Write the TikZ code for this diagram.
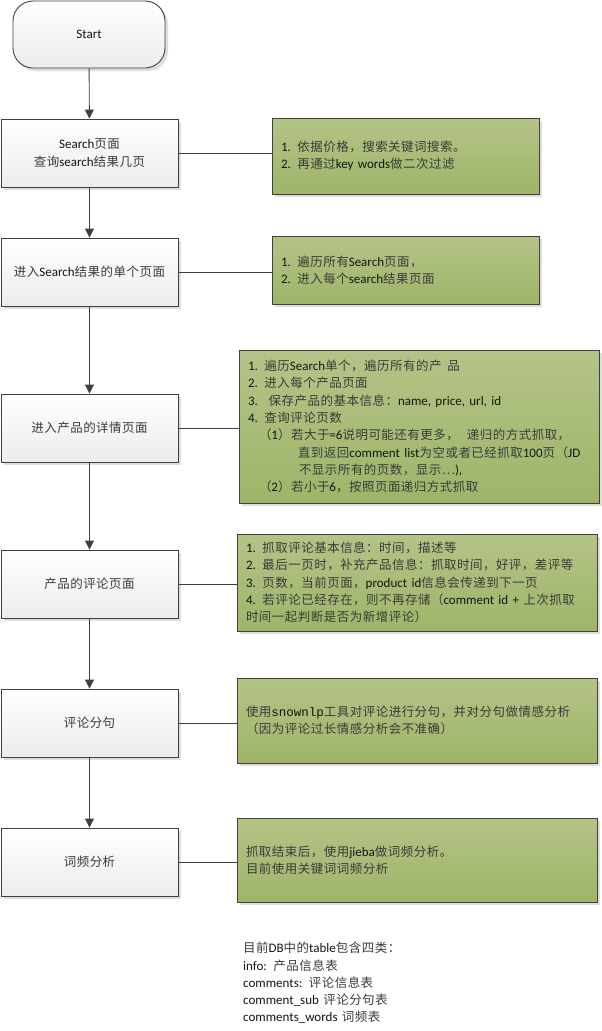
\documentclass[tikz,border=0pt]{standalone}
\usepackage{fontspec}
\setmainfont{Carlito}
\newfontfamily\cjkfont{Noto Sans CJK SC}[Scale=0.96]
\newfontfamily\monofont{Liberation Mono}[Scale=0.96]
\usetikzlibrary{arrows.meta,shadows}

\definecolor{linegray}{RGB}{64,64,64}
\definecolor{notetop}{RGB}{180,195,135}
\definecolor{notebot}{RGB}{158,181,104}
\definecolor{boxbot}{RGB}{236,236,236}
\definecolor{shadowgray}{RGB}{222,222,222}
\definecolor{latintext}{RGB}{20,20,20}
\definecolor{cjktext}{RGB}{58,58,58}

% Automatic switching between the Latin and the CJK font
\newXeTeXintercharclass\CJKclass
\newcount\cjkcode
\newcommand\setcjkrange[2]{%
  \cjkcode=#1\relax
  \loop
    \XeTeXcharclass\cjkcode=\CJKclass
    \ifnum\cjkcode<#2\relax \advance\cjkcode by 1 \repeat}
\setcjkrange{"3000}{"303F}
\setcjkrange{"4E00}{"9FFF}
\setcjkrange{"FF00}{"FFEF}
\XeTeXcharclass"2026=\CJKclass

\newcommand\tocjk{\cjkfont\color{cjktext}}
\newcommand\tolatin{\normalfont\color{latintext}}
\newcommand\tomono{\monofont\color{latintext}}
\XeTeXinterchartoks 0 \CJKclass = {\tocjk}
\XeTeXinterchartoks 4095 \CJKclass = {\tocjk}
\XeTeXinterchartoks \CJKclass 0 = {\tolatin}
\XeTeXinterchartoks \CJKclass 4095 = {\tolatin}
\XeTeXinterchartoks \CJKclass \CJKclass = {\kern0.5pt}

\newcommand\mono[1]{{\let\tolatin\tomono\tomono #1}}

\tikzset{
  flowline/.style={draw=linegray, line width=0.9pt},
  arr/.style={flowline, -{Triangle[width=9pt,length=9pt]}},
  boxshadow/.style={drop shadow={shadow xshift=3pt, shadow yshift=-3pt, fill=shadowgray, opacity=1}},
  startbox/.style={draw=linegray, line width=0.9pt, rounded corners=20pt,
    top color=white, bottom color=boxbot, minimum width=152pt, minimum height=67pt,
    inner sep=0pt, boxshadow},
  stepbox/.style={draw=linegray, line width=0.9pt, top color=white, bottom color=boxbot,
    minimum width=177pt, minimum height=68pt, align=center, inner sep=0pt, boxshadow},
  notebox/.style={draw=linegray, line width=0.9pt, top color=notetop, bottom color=notebot,
    inner xsep=9pt, inner ysep=0pt, align=left, boxshadow},
  every node/.style={font=\fontsize{13}{17.3}\selectfont\color{latintext}},
}

\begin{document}
\XeTeXinterchartokenstate=1
\begin{tikzpicture}[x=1pt,y=-1pt]
\useasboundingbox[fill=white] (0,0) rectangle (602,1031);

% main flow
\node[startbox] (start) at (89,34.5) {Start};
\node[stepbox] (b1) at (89.5,153) {Search页面\\查询search结果几页};
\node[stepbox] (b2) at (89.5,272) {进入Search结果的单个页面};
\node[stepbox] (b3) at (89.5,428) {进入产品的详情页面};
\node[stepbox] (b4) at (89.5,584) {产品的评论页面};
\node[stepbox] (b5) at (89.5,723) {评论分句};
\node[stepbox] (b6) at (89.5,862) {词频分析};

% notes
\node[notebox, text width=249pt, minimum height=76pt] (n1) at (405.5,156)
  {1. 依据价格，搜索关键词搜索。\\2. 再通过key words做二次过滤};
\node[notebox, text width=249pt, minimum height=68pt] (n2) at (405.5,270)
  {1. 遍历所有Search页面，\\2. 进入每个search结果页面};
\node[notebox, text width=342pt, minimum height=153pt] (n3) at (419,426.5)
  {1. 遍历Search单个，遍历所有的产\hspace{6pt}品\\
   2. 进入每个产品页面\\
   3.~ 保存产品的基本信息：name, price, url, id\\
   4. 查询评论页数\\
   \hspace*{11pt}（1）若大于=6说明可能还有更多，\hspace{8pt}递归的方式抓取，\\
   \hspace*{50pt}直到返回comment list为空或者已经抓取100页（JD\\
   \hspace*{51pt}不显示所有的页数，显示…),\\
   \hspace*{11pt}（2）若小于6，按照页面递归方式抓取};
\node[notebox, text width=342pt, minimum height=97pt] (n4) at (417,582.5)
  {1. 抓取评论基本信息：时间，描述等\\
   2. 最后一页时，补充产品信息：抓取时间，好评，差评等\\
   3. 页数，当前页面，product id信息会传递到下一页\\
   4. 若评论已经存在，则不再存储（comment id + 上次抓取\\
   时间一起判断是否为新增评论）};
\node[notebox, text width=342pt, minimum height=85pt] (n5) at (417,720.5)
  {使用\mono{snownlp}工具对评论进行分句，并对分句做情感分析\\
   （因为评论过长情感分析会不准确）};
\node[notebox, text width=342pt, minimum height=84pt] (n6) at (417,860)
  {抓取结束后，使用jieba做词频分析。\\目前使用关键词词频分析};

% database tables
\node[anchor=north west, align=left, inner sep=0pt, text width=250pt] (db) at (243,942)
  {目前DB中的table包含四类：\\
   info: 产品信息表\\
   comments: 评论信息表\\
   comment\_sub 评论分句表\\
   comments\_words 词频表};

% arrows of the flow
\draw[arr] (start) -- (b1);
\draw[arr] (b1) -- (b2);
\draw[arr] (b2) -- (b3);
\draw[arr] (b3) -- (b4);
\draw[arr] (b4) -- (b5);
\draw[arr] (b5) -- (b6);

% links to the notes
\draw[flowline] (b1.east) -- (b1.east -| n1.west);
\draw[flowline] (b2.east) -- (b2.east -| n2.west);
\draw[flowline] (b3.east) -- (b3.east -| n3.west);
\draw[flowline] (b4.east) -- (b4.east -| n4.west);
\draw[flowline] (b5.east) -- (b5.east -| n5.west);
\draw[flowline] (b6.east) -- (b6.east -| n6.west);
\end{tikzpicture}
\end{document}
